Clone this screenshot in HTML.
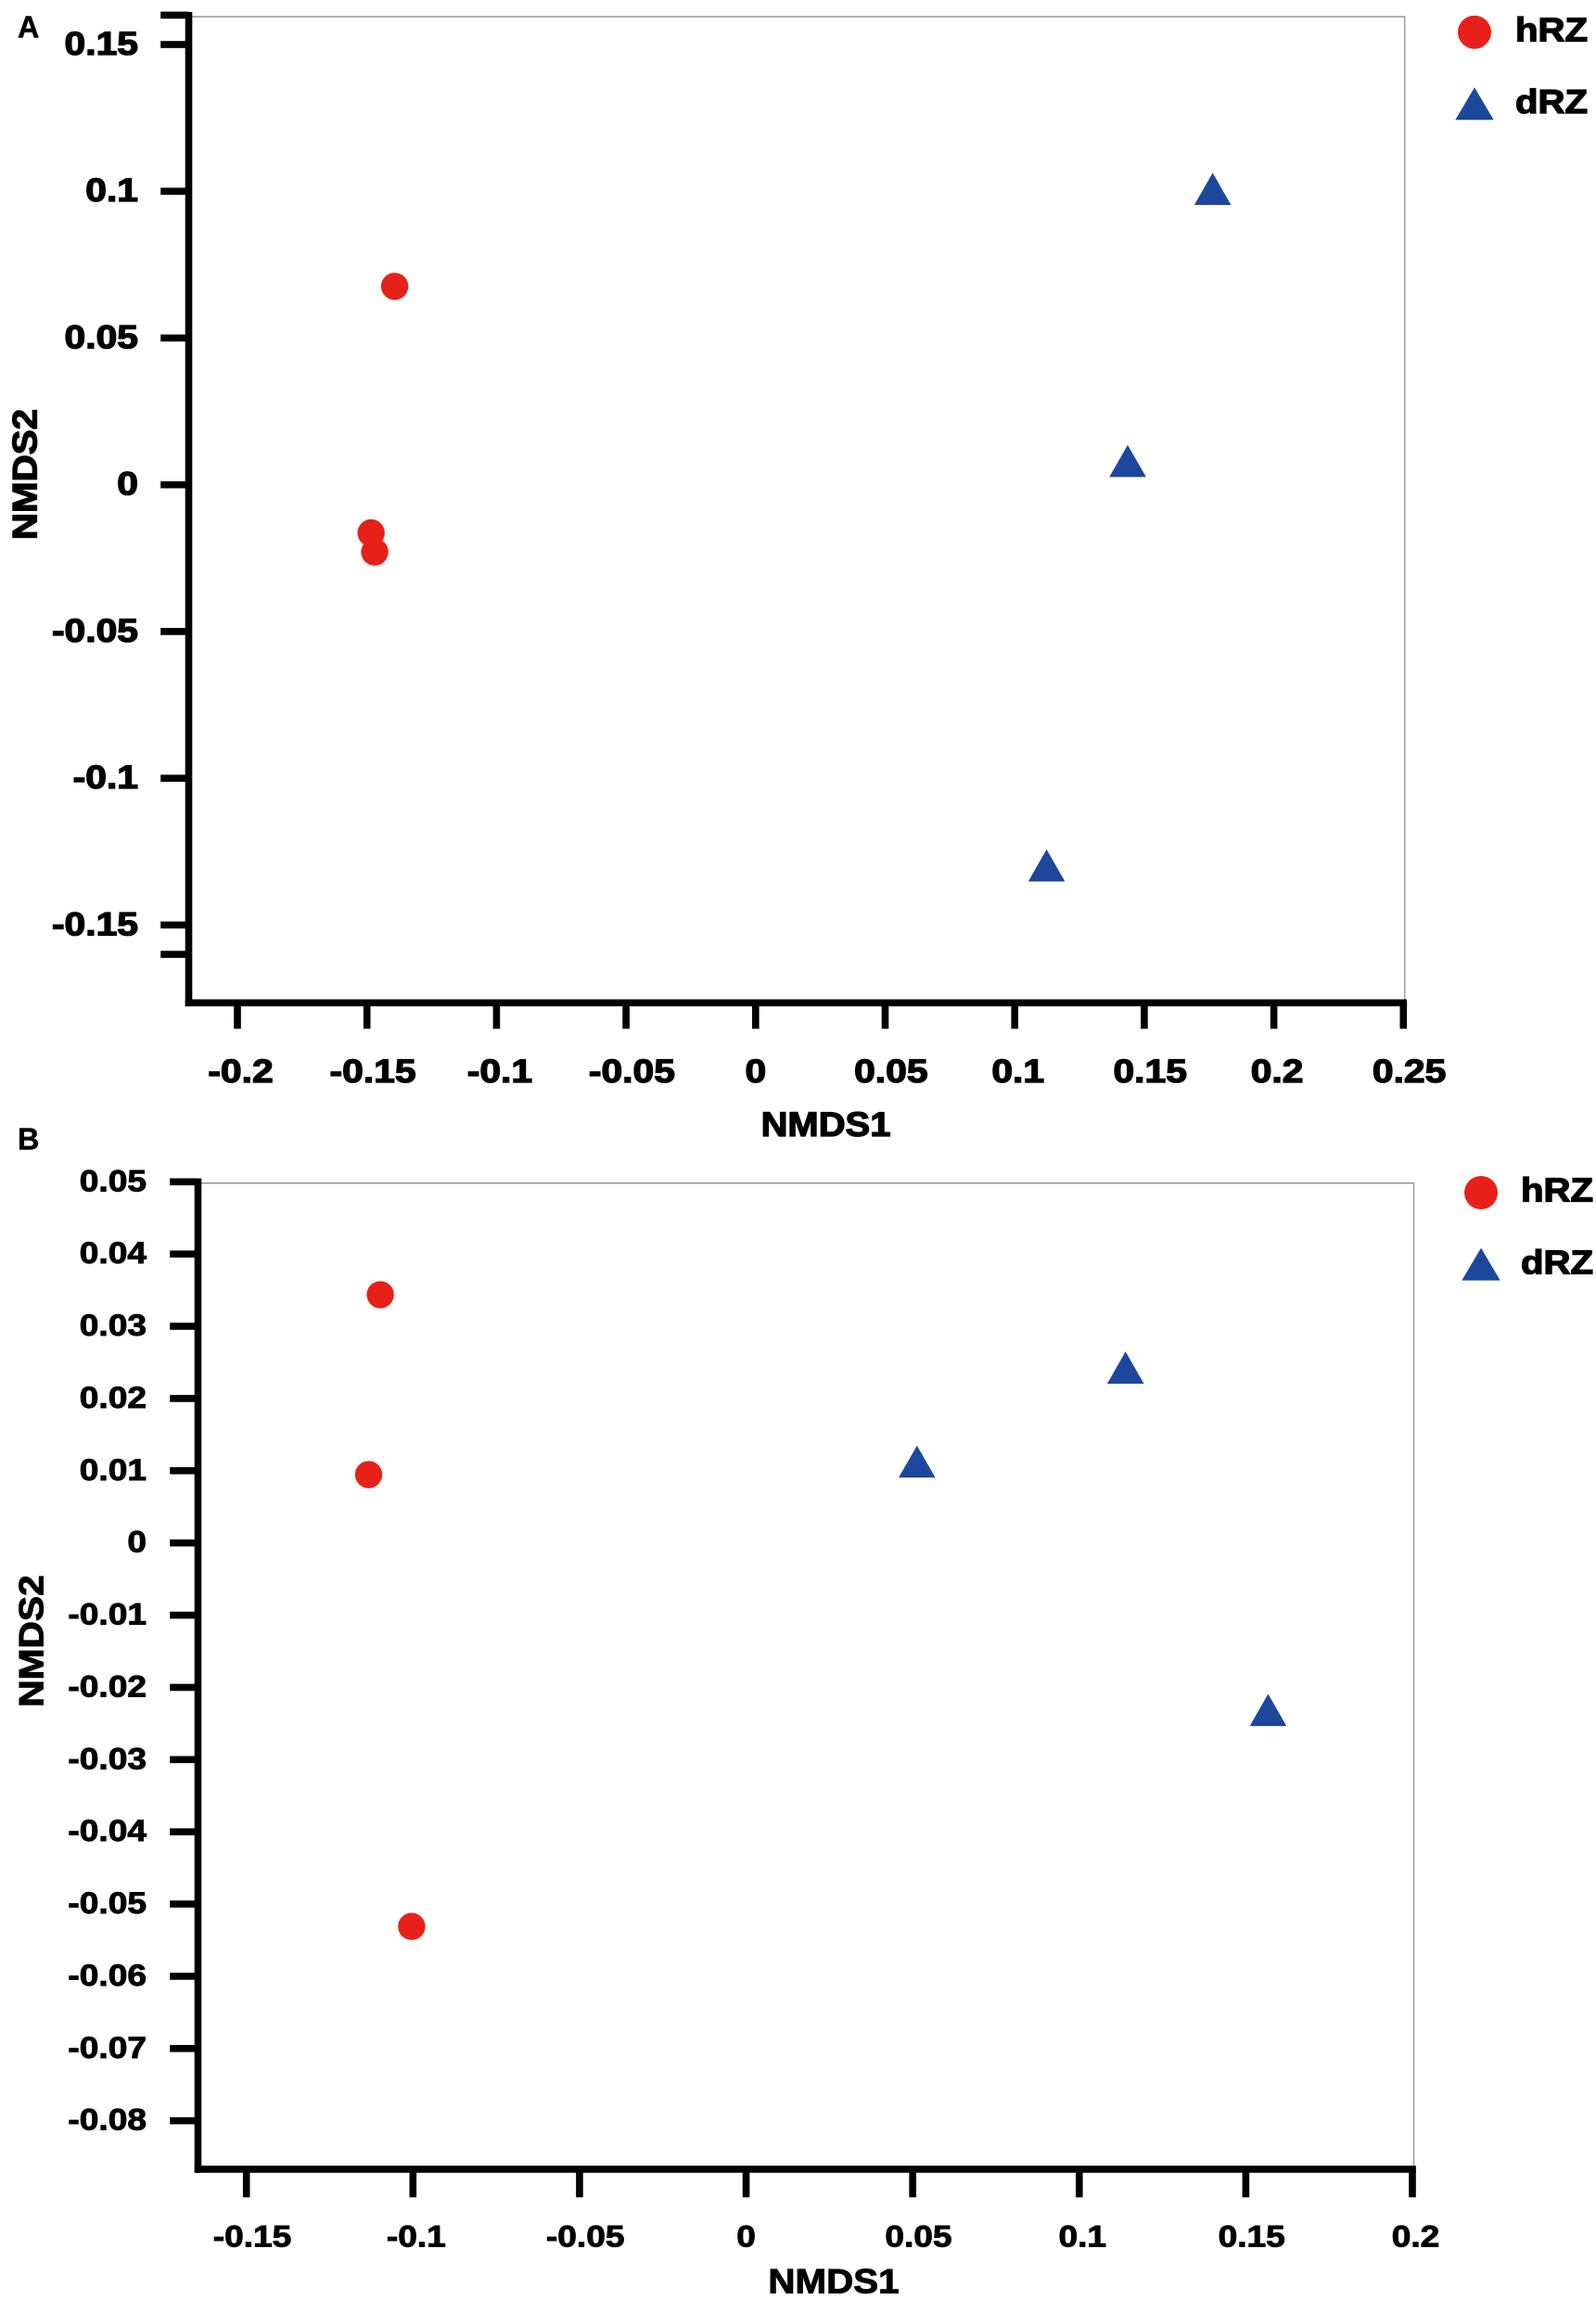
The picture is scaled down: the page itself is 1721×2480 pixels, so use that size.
<!DOCTYPE html>
<html lang="en">
<head>
<meta charset="utf-8">
<title>NMDS ordination of hRZ and dRZ samples</title>
<style>
  html, body { margin: 0; padding: 0; background: #fff; }
  #figure { display: block; width: 1721px; height: 2480px; }
  text { font-family: "Liberation Sans", sans-serif; font-weight: 700; fill: #000; stroke: #000; }
</style>
</head>
<body>
<svg id="figure" xmlns="http://www.w3.org/2000/svg" width="1721" height="2480" viewBox="0 0 1721 2480">
  <rect x="0" y="0" width="1721" height="2480" fill="#ffffff"/>

  <g id="panel-a">
    <text transform="translate(19,40.5) scale(0.98,1)" font-size="33" stroke-width="0.5">A</text>
    <text transform="translate(890.5,1225) scale(1.08,1)" font-size="37" stroke-width="1.3" text-anchor="middle">NMDS1</text>
    <text transform="translate(39.5,511.5) rotate(-90) scale(1.09,1)" font-size="37" stroke-width="1.3" text-anchor="middle">NMDS2</text>
    <g>
      <circle cx="1590" cy="34.7" r="18" fill="#e8201a"/>
      <text transform="translate(1634,44.3) scale(1.1,1)" font-size="36.5" stroke-width="1.3">hRZ</text>
      <polygon points="1590,94.3 1610.7,129.3 1569.3,129.3" fill="#1c479c"/>
      <text transform="translate(1634,122) scale(1.1,1)" font-size="36.5" stroke-width="1.3">dRZ</text>
    </g>
  </g>

  <g id="panel-b">
    <text transform="translate(19,1239.3) scale(0.98,1)" font-size="33" stroke-width="0.5">B</text>
    <text transform="translate(899,2472.5) scale(1.09,1)" font-size="37" stroke-width="1.0" text-anchor="middle">NMDS1</text>
    <text transform="translate(46.7,1769.5) rotate(-90) scale(1.1,1)" font-size="37" stroke-width="1.0" text-anchor="middle">NMDS2</text>
    <g>
      <circle cx="1597" cy="1286" r="18" fill="#e8201a"/>
      <text transform="translate(1640,1295.7) scale(1.1,1)" font-size="36.5" stroke-width="1.3">hRZ</text>
      <polygon points="1597,1345.6 1617.7,1380.6 1576.3,1380.6" fill="#1c479c"/>
      <text transform="translate(1640,1373.4) scale(1.1,1)" font-size="36.5" stroke-width="1.3">dRZ</text>
    </g>
  </g>
</svg>

<script>
// Panel A values
const panelAXTicks = [-0.2, -0.15, -0.1, -0.05, 0, 0.05, 0.1, 0.15, 0.2, 0.25];
const panelAYTicks = [0.15, 0.1, 0.05, 0, -0.05, -0.1, -0.15];
const panelAYUnlabeledTicks = [0.16, -0.16];
const panelAHrzX = [-0.1393, -0.1484, -0.1470];
const panelAHrzY = [0.0676, -0.0164, -0.0229];
const panelADrzX = [0.1764, 0.1436, 0.1123];
const panelADrzY = [0.1008, 0.0081, -0.1297];

// Panel B values
const panelBXTicks = [-0.15, -0.1, -0.05, 0, 0.05, 0.1, 0.15, 0.2];
const panelBYTicks = [0.05, 0.04, 0.03, 0.02, 0.01, 0, -0.01, -0.02, -0.03, -0.04, -0.05, -0.06, -0.07, -0.08];
const panelBYUnlabeledTicks = [];
const panelBHrzX = [-0.1098, -0.1133, -0.1004];
const panelBHrzY = [0.03437, 0.00946, -0.0531];
const panelBDrzX = [0.1139, 0.0513, 0.1567];
const panelBDrzY = [0.02427, 0.01126, -0.02313];

const SVG_NS = 'http://www.w3.org/2000/svg';
const BLACK = '#000000';
const RED = '#e8201a';
const BLUE = '#1c479c';

function linearScale(d0, d1, r0, r1) {
  return function (v) { return r0 + (v - d0) * (r1 - r0) / (d1 - d0); };
}

function makeRect(parent, x, y, w, h, fill) {
  const el = document.createElementNS(SVG_NS, 'rect');
  el.setAttribute('x', x);
  el.setAttribute('y', y);
  el.setAttribute('width', w);
  el.setAttribute('height', h);
  el.setAttribute('fill', fill);
  parent.appendChild(el);
  return el;
}

function makeLabel(parent, x, y, str, style) {
  const el = document.createElementNS(SVG_NS, 'text');
  el.setAttribute('transform', 'translate(' + x + ',' + y + ') scale(' + style.sx + ',1)');
  el.setAttribute('font-size', style.size);
  el.setAttribute('stroke-width', style.stroke);
  el.setAttribute('text-anchor', style.anchor);
  el.textContent = str;
  parent.appendChild(el);
  return el;
}

// Printed tick labels sit slightly right of their tick, more so with more decimals.
function xLabelOffset(value) {
  const s = String(value);
  const decimals = s.indexOf('.') < 0 ? 0 : s.length - s.indexOf('.') - 1;
  return decimals === 0 ? 0 : (decimals === 1 ? 3.5 : 6.3);
}

function drawPanel(cfg) {
  const root = document.getElementById(cfg.id);
  const x = cfg.x;
  const y = cfg.y;
  const half = cfg.stroke / 2;

  // frame lines (top + right, thin and grey)
  const frameTop = makeRect(root, cfg.axisX, cfg.frameTopY - 0.7, cfg.frameRightX - cfg.axisX, 1.4, '#8c8c8c');
  
  
  const frameRight = makeRect(root, cfg.frameRightX - 0.7, cfg.frameTopY - 0.7, 1.4, cfg.axisY - cfg.frameTopY, '#9a9a9a');
  
  

  // y axis
  const yAxis = makeRect(root, cfg.axisX - half, cfg.axisTopY, cfg.stroke, cfg.axisY + half - cfg.axisTopY, BLACK);
  
  

  cfg.yTicks.forEach(function (v) {
    const t = makeRect(root, cfg.axisX - half - cfg.tickLen, y(v) - half, cfg.tickLen + half, cfg.stroke, BLACK);
    
    
    const lab = makeLabel(root, cfg.yLabelX, y(v) + cfg.yLabelDy, String(v), cfg.labelStyleEnd);
    
    
  });

  cfg.yUnlabeled.forEach(function (v) {
    const t = makeRect(root, cfg.axisX - half - cfg.tickLen, y(v) - half, cfg.tickLen + half, cfg.stroke, BLACK);
    
    
  });

  // x axis
  const lastX = x(cfg.xTicks[cfg.xTicks.length - 1]);
  const xAxis = makeRect(root, cfg.axisX - half, cfg.axisY - half, lastX + half - cfg.axisX + half, cfg.stroke, BLACK);
  
  

  cfg.xTicks.forEach(function (v) {
    const t = makeRect(root, x(v) - half, cfg.axisY, cfg.stroke, cfg.xTickBottom - cfg.axisY, BLACK);
    
    
    const lab = makeLabel(root, x(v) + xLabelOffset(v) + cfg.xLabelShift, cfg.xLabelY, String(v), cfg.labelStyleMid);
    
    
  });

  // hRZ points
  cfg.hrzX.forEach(function (v, i) {
    const c = document.createElementNS(SVG_NS, 'circle');
    
    
    c.setAttribute('cx', x(v));
    c.setAttribute('cy', y(cfg.hrzY[i]));
    c.setAttribute('r', 14.7);
    c.setAttribute('fill', RED);
    root.appendChild(c);
  });

  // dRZ points
  cfg.drzX.forEach(function (v, i) {
    const px = x(v);
    const py = y(cfg.drzY[i]);
    const p = document.createElementNS(SVG_NS, 'polygon');
    
    
    p.setAttribute('points', px + ',' + (py - 17.3) + ' ' + (px + 19.8) + ',' + (py + 17.3) + ' ' + (px - 19.8) + ',' + (py + 17.3));
    p.setAttribute('fill', BLUE);
    root.appendChild(p);
  });
}

drawPanel({
  id: 'panel-a',
  x: linearScale(-0.2, 0.25, 256, 1513.3),
  y: linearScale(0.15, -0.15, 48, 997.4),
  xTicks: panelAXTicks,
  yTicks: panelAYTicks,
  yUnlabeled: panelAYUnlabeledTicks,
  hrzX: panelAHrzX,
  hrzY: panelAHrzY,
  drzX: panelADrzX,
  drzY: panelADrzY,
  axisX: 203.5,
  axisY: 1081.3,
  axisTopY: 13,
  frameTopY: 18,
  frameRightX: 1514.7,
  stroke: 7.6,
  tickLen: 26.5,
  xTickBottom: 1109.3,
  xLabelShift: 0,
  yLabelX: 149,
  yLabelDy: 11,
  xLabelY: 1167,
  labelStyleEnd: { size: 35.5, sx: 1.15, stroke: 1.3, anchor: 'end' },
  labelStyleMid: { size: 35.5, sx: 1.15, stroke: 1.3, anchor: 'middle' }
});

drawPanel({
  id: 'panel-b',
  x: linearScale(-0.15, 0.2, 265.7, 1523),
  y: linearScale(0.05, -0.08, 1274.3, 2286.7),
  xTicks: panelBXTicks,
  yTicks: panelBYTicks,
  yUnlabeled: panelBYUnlabeledTicks,
  hrzX: panelBHrzX,
  hrzY: panelBHrzY,
  drzX: panelBDrzX,
  drzY: panelBDrzY,
  axisX: 213.5,
  axisY: 2339,
  axisTopY: 1270.6,
  frameTopY: 1275.7,
  frameRightX: 1524.5,
  stroke: 7.6,
  tickLen: 26.5,
  xTickBottom: 2369.3,
  xLabelShift: 0,
  yLabelX: 158,
  yLabelDy: 10,
  xLabelY: 2422.3,
  labelStyleEnd: { size: 32, sx: 1.16, stroke: 0.9, anchor: 'end' },
  labelStyleMid: { size: 32, sx: 1.16, stroke: 0.9, anchor: 'middle' }
});
</script>
</body>
</html>
